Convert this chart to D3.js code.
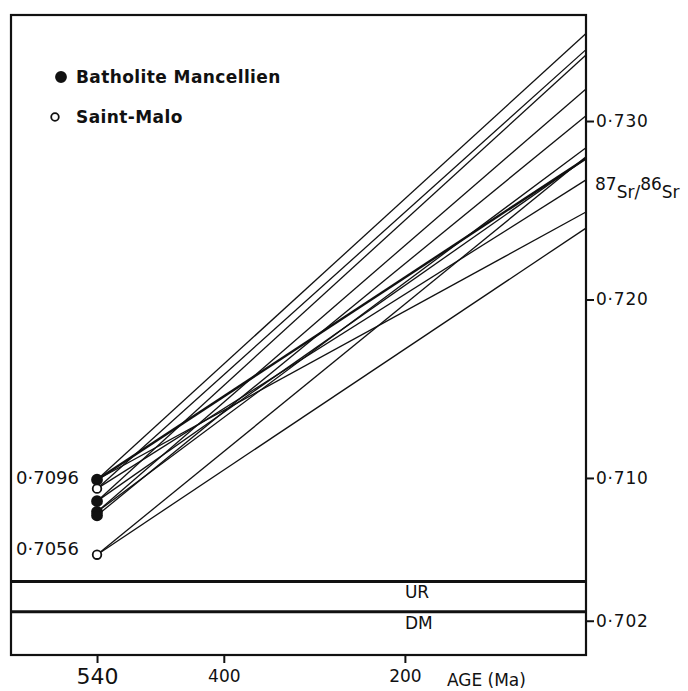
<!DOCTYPE html>
<html>
<head>
<meta charset="utf-8">
<script src="https://cdn.jsdelivr.net/npm/d3@7"></script>
<style>
    body { margin: 0; background: #fff; }
    #chart { width: 688px; height: 691px; }
    text { font-family: "DejaVu Sans", sans-serif; fill: #111; }
    .axis line { stroke: #111; stroke-width: 2; }
    .axis path { display: none; }
</style>
</head>
<body>
<div id="chart"></div>
<script>
// initial ratios at 540 Ma (points) and their groups
const pointRatios = [0.7099, 0.7094, 0.7087, 0.7081, 0.7079, 0.7057];
const pointGroups = ["Batholite Mancellien", "Saint-Malo", "Batholite Mancellien",
    "Batholite Mancellien", "Batholite Mancellien", "Saint-Malo"];

// evolution lines: index of start point, present-day ratio
const lineFrom = [0, 0, 0, 1, 1, 2, 2, 3, 3, 4, 5, 5];
const lineTo = [0.7349, 0.7279, 0.7249, 0.7340, 0.7267, 0.7337, 0.7279, 0.7318, 0.7285, 0.7303, 0.7280, 0.7240];
const startAge = 540;
const endAge = 0;

const ageTicks = [540, 400, 200];
const ratioTicks = [0.730, 0.720, 0.710, 0.702];
const initialLabels = [0.7096, 0.7056];

const bandNames = ["UR", "DM"];
const bandTop = [0.7042, 0.7025];
const bandBottom = [0.7025, 0.70008];

const legendNames = ["Batholite Mancellien", "Saint-Malo"];

class SrVis {

    constructor(parentElement) {
        this.parentElement = parentElement;
        this.initVis();
    }

    initVis() {
        let vis = this;

        vis.margin = {top: 15, right: 102, bottom: 36, left: 11};
        vis.width = 688 - vis.margin.left - vis.margin.right;
        vis.height = 691 - vis.margin.top - vis.margin.bottom;

        vis.svg = d3.select("#" + vis.parentElement).append("svg")
            .attr("width", 688)
            .attr("height", 691)
            .append("g")
            .attr("transform", `translate(${vis.margin.left}, ${vis.margin.top})`);

        vis.x = d3.scaleLinear()
            .domain([635, 0])
            .range([0, vis.width]);

        vis.y = d3.scaleLinear()
            .domain([0.70008, 0.73594])
            .range([vis.height, 0]);

        vis.fmt = d => d3.format(".3f")(d).replace(".", "·");

        vis.updateVis();
    }

    updateVis() {
        let vis = this;

        // UR / DM band dividers
        vis.svg.selectAll(".band-line")
            .data(bandTop)
            .enter()
            .append("line")
            .attr("class", "band-line")
            .attr("x1", 0)
            .attr("x2", vis.width)
            .attr("y1", d => vis.y(d))
            .attr("y2", d => vis.y(d))
            .attr("stroke", "#111")
            .attr("stroke-width", 3);

        vis.svg.selectAll(".band-label")
            .data(bandNames)
            .enter()
            .append("text")
            .attr("class", "band-label")
            .attr("x", vis.x(200))
            .attr("y", (d, i) => vis.y(bandTop[i]) + 17)
            .attr("font-size", 17)
            .text(d => d);

        // evolution lines
        vis.svg.selectAll(".evo")
            .data(lineTo)
            .enter()
            .append("line")
            .attr("class", "evo")
            .attr("x1", vis.x(startAge))
            .attr("y1", (d, i) => vis.y(pointRatios[lineFrom[i]]))
            .attr("x2", vis.x(endAge))
            .attr("y2", d => vis.y(d))
            .attr("stroke", "#111")
            .attr("stroke-width", (d, i) => i === 1 ? 2.4 : 1.3);

        // points at 540 Ma
        vis.svg.selectAll(".pt")
            .data(pointRatios)
            .enter()
            .append("circle")
            .attr("class", "pt")
            .attr("cx", vis.x(startAge))
            .attr("cy", d => vis.y(d))
            .attr("r", (d, i) => pointGroups[i] === "Saint-Malo" ? 4.3 : 5)
            .attr("fill", (d, i) => pointGroups[i] === "Saint-Malo" ? "#fff" : "#111")
            .attr("stroke", "#111")
            .attr("stroke-width", 1.8);

        vis.svg.selectAll(".init-label")
            .data(initialLabels)
            .enter()
            .append("text")
            .attr("class", "init-label")
            .attr("x", 5)
            .attr("y", d => vis.y(d) - 1)
            .attr("font-size", 18)
            .text(d => "0·" + String(d).split(".")[1]);

        // frame
        vis.svg.append("rect")
            .attr("width", vis.width)
            .attr("height", vis.height)
            .attr("fill", "none")
            .attr("stroke", "#111")
            .attr("stroke-width", 2.2);

        // legend
        vis.legend = vis.svg.append("g");
        vis.legend.selectAll(".dots")
            .data(legendNames)
            .enter()
            .append("circle")
            .attr("class", "dots")
            .attr("cx", (d, i) => i === 0 ? 50 : 44)
            .attr("cy", (d, i) => 62 + i * 40)
            .attr("r", (d, i) => i === 0 ? 5 : 3.8)
            .attr("fill", (d, i) => i === 0 ? "#111" : "#fff")
            .attr("stroke", "#111")
            .attr("stroke-width", 1.8);
        vis.legend.selectAll(".labels")
            .data(legendNames)
            .enter()
            .append("text")
            .attr("class", "labels")
            .attr("x", 65)
            .attr("y", (d, i) => 68 + i * 40)
            .attr("font-size", 17)
            .attr("font-weight", "bold")
            .attr("letter-spacing", 0.4)
            .text(d => d);

        // right axis
        vis.yAxis = d3.axisRight(vis.y)
            .tickValues(ratioTicks)
            .tickSize(8)
            .tickPadding(2)
            .tickFormat(vis.fmt);
        vis.svg.append("g")
            .attr("class", "y-axis axis")
            .attr("transform", `translate(${vis.width}, 0)`)
            .call(vis.yAxis)
            .selectAll("text")
            .attr("font-size", 17)
            .attr("letter-spacing", 0.8);

        // bottom axis
        vis.xAxis = d3.axisBottom(vis.x)
            .tickValues(ageTicks)
            .tickSize(8)
            .tickPadding(6)
            .tickFormat(d3.format("d"));
        vis.svg.append("g")
            .attr("class", "x-axis axis")
            .attr("transform", `translate(0, ${vis.height})`)
            .call(vis.xAxis)
            .selectAll("text")
            .attr("font-size", d => d === 540 ? 22 : 17)
            .attr("dy", d => d === 540 ? "0.68em" : "0.75em");

        vis.svg.append("text")
            .attr("x", vis.x(200) + 42)
            .attr("y", vis.height + 31)
            .attr("font-size", 17)
            .text("AGE (Ma)");

        // y-axis title 87Sr/86Sr
        let title = vis.svg.append("text")
            .attr("x", vis.width + 9)
            .attr("y", vis.y(0.7257))
            .attr("font-size", 17);
        title.append("tspan").attr("dy", -8).text("87");
        title.append("tspan").attr("dy", 8).text("Sr/");
        title.append("tspan").attr("dy", -8).text("86");
        title.append("tspan").attr("dy", 8).text("Sr");
    }
}

new SrVis("chart");
</script>
</body>
</html>
